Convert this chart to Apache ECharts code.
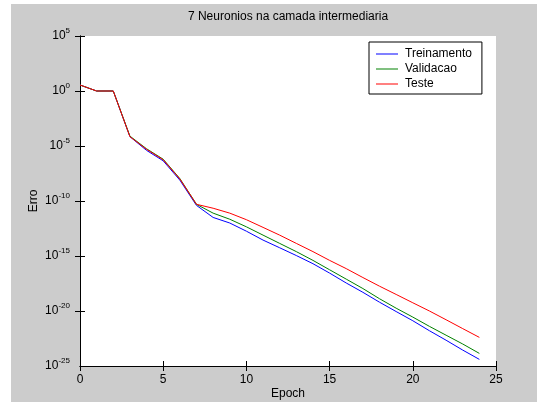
<!DOCTYPE html>
<html>
<head>
<meta charset="utf-8">
<script src="https://cdn.jsdelivr.net/npm/echarts@6/dist/echarts.min.js"></script>
<style>
html,body{margin:0;padding:0;background:#fff;}
#chart{width:537px;height:406px;}
</style>
</head>
<body>
<div id="chart"></div>
<script>
// Epochs
var epochs = [0,1,2,3,4,5,6,7,8,9,10,11,12,13,14,15,16,17,18,19,20,21,22,23,24];
// Training error (Treinamento)
var treinamento = [3.5,1,1,7.1e-5,4.0e-6,4.5e-7,7.9e-9,4.0e-11,3.2e-12,1.0e-12,1.8e-13,2.8e-14,5.6e-15,1.1e-15,2.0e-16,2.8e-17,3.5e-18,5.0e-19,6.3e-20,8.9e-21,1.3e-21,1.6e-22,2.2e-23,2.8e-24,4.0e-25];
// Validation error (Validacao)
var validacao = [3.5,1,1,7.9e-5,5.6e-6,6.3e-7,1.1e-8,5.0e-11,7.9e-12,2.2e-12,4.5e-13,7.9e-14,1.4e-14,2.5e-15,4.0e-16,5.6e-17,7.9e-18,1.1e-18,1.3e-19,1.8e-20,2.8e-21,4.0e-22,6.3e-23,1.0e-23,1.4e-24];
// Test error (Teste)
var teste = [3.5,1,1,7.1e-5,5.0e-6,5.6e-7,1.0e-8,5.0e-11,2.2e-11,7.9e-12,2.0e-12,4.0e-13,7.9e-14,1.4e-14,2.5e-15,4.0e-16,7.1e-17,1.1e-17,1.8e-18,3.2e-19,5.6e-20,1.0e-20,1.6e-21,2.5e-22,4.0e-23];

var seriesNames = ['Treinamento','Validacao','Teste'];
// Y tick labels (powers of ten), bottom to top
var yTickExponents = ['-25','-20','-15','-10','-5','0','5'];
var yMin = 1e-25, yMax = 1e5;

function pairs(arr){ return epochs.map(function(e,i){ return [e, arr[i]]; }); }

var FONT = 'Liberation Sans, Arial, sans-serif';
var chart = echarts.init(document.getElementById('chart'));

var richStyles = {
  b: {fontSize: 12, fontFamily: FONT, color: '#000', lineHeight: 12},
  s: {fontSize: 8, fontFamily: FONT, color: '#000', lineHeight: 8, padding: [0,0,10,0]}
};

var yLabel = {
  show: true,
  margin: 10,
  showMinLabel: true, showMaxLabel: true, hideOverlap: false,
  fontFamily: FONT,
  color: '#000',
  formatter: function(v, idx){
    var e = yTickExponents[idx];
    if (e === undefined) e = String(Math.round(Math.log(v)/Math.LN10));
    return '{b|10}{s|' + e + '}';
  },
  rich: richStyles
};

var option = {
  animation: false,
  backgroundColor: '#fff',
  graphic: [{
    id: 'figbg', type: 'rect', z: -100, silent: true,
    shape: {x: 11, y: 4, width: 526, height: 398},
    style: {fill: '#cccccc'}
  }],
  title: {
    text: '7 Neuronios na camada intermediaria',
    left: 288, top: 11, textAlign: 'center', padding: 0,
    textStyle: {fontFamily: FONT, fontSize: 12, fontWeight: 'normal', color: '#000'}
  },
  legend: {
    orient: 'vertical',
    left: 369, top: 42,
    padding: [5, 10, 3, 7],
    itemGap: 1,
    icon: 'rect',
    itemWidth: 22, itemHeight: 1,
    backgroundColor: '#fff',
    borderColor: '#000', borderWidth: 1, borderRadius: 0,
    textStyle: {fontFamily: FONT, fontSize: 12, color: '#000', lineHeight: 14, padding: [0,0,0,2]},
    data: seriesNames
  },
  grid: {
    left: 80, top: 36, right: 41, bottom: 40,
    outerBoundsMode: 'none', containLabel: false,
    show: true, backgroundColor: '#fff', borderWidth: 0
  },
  xAxis: [{
    type: 'value', min: 0, max: 25, interval: 5,
    name: 'Epoch', nameLocation: 'middle', nameGap: 22, nameMoveOverlap: false,
    nameTextStyle: {fontFamily: FONT, fontSize: 12, color: '#000'},
    axisLine: {show: true, lineStyle: {color: '#000', width: 1}},
    axisTick: {show: true, inside: true, length: 5, lineStyle: {color: '#000'}},
    axisLabel: {margin: 8, fontFamily: FONT, fontSize: 12, color: '#000', showMinLabel: true, showMaxLabel: true},
    splitLine: {show: false}
  },{
    type: 'value', min: 0, max: 25, interval: 5, position: 'top',
    axisLine: {show: true, lineStyle: {color: '#000', width: 1}},
    axisTick: {show: true, inside: true, length: 5, lineStyle: {color: '#000'}},
    axisLabel: {show: false}, splitLine: {show: false}
  }],
  yAxis: [{
    type: 'log', logBase: 10, min: yMin, max: yMax, interval: 5,
    name: 'Erro', nameLocation: 'middle', nameGap: 40, nameMoveOverlap: false,
    nameTextStyle: {fontFamily: FONT, fontSize: 12, color: '#000'},
    axisLine: {show: true, lineStyle: {color: '#000', width: 1}},
    axisTick: {show: true, inside: true, length: 5, lineStyle: {color: '#000'}},
    axisLabel: yLabel,
    splitLine: {show: false}, minorTick: {show: false}
  },{
    type: 'log', logBase: 10, min: yMin, max: yMax, interval: 5, position: 'right',
    axisLine: {show: true, lineStyle: {color: '#000', width: 1}},
    axisTick: {show: true, inside: true, length: 5, lineStyle: {color: '#000'}},
    axisLabel: {show: false}, splitLine: {show: false}
  }],
  series: [
    {name: seriesNames[0], type: 'line', data: pairs(treinamento), symbol: 'none',
     lineStyle: {color: '#0000ff', width: 1}, itemStyle: {color: '#0000ff'}, z: 3},
    {name: seriesNames[1], type: 'line', data: pairs(validacao), symbol: 'none',
     lineStyle: {color: '#008000', width: 1}, itemStyle: {color: '#008000'}, z: 4},
    {name: seriesNames[2], type: 'line', data: pairs(teste), symbol: 'none',
     lineStyle: {color: '#ff0000', width: 1}, itemStyle: {color: '#ff0000'}, z: 5}
  ]
};
chart.setOption(option);

// The log scale rounds its lowest tick (1e-25) to 0, so ECharts drops that label;
// place it at the axis minimum using the library's own coordinate conversion.
var yPix = chart.convertToPixel({yAxisIndex: 0}, yMin);
var xPix = chart.convertToPixel({xAxisIndex: 0}, 0);
if (isFinite(yPix) && isFinite(xPix)) {
  chart.setOption({
    graphic: [{
      id: 'ymin-label', type: 'text', silent: true, z: 10,
      x: xPix - 10, y: yPix,
      style: {
        text: '{b|10}{s|' + yTickExponents[0] + '}',
        rich: richStyles,
        align: 'right', verticalAlign: 'middle'
      }
    }]
  });
}
</script>
</body>
</html>
